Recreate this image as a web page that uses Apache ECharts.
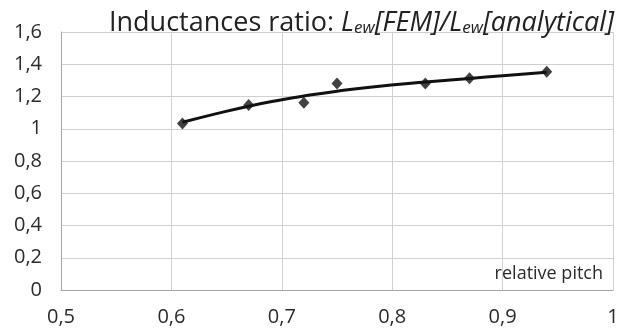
<!DOCTYPE html>
<html>
<head>
<meta charset="utf-8">
<script src="https://cdn.jsdelivr.net/npm/echarts@6/dist/echarts.min.js"></script>
<style>
  html, body { margin: 0; padding: 0; background: #fff; }
  #chart { width: 627px; height: 329px; }
</style>
</head>
<body>
<div id="chart"></div>
<script>
// measured points: relative pitch vs. L_ew[FEM]/L_ew[analytical]
const pitch = [0.61, 0.67, 0.72, 0.75, 0.83, 0.87, 0.94];
const ratio = [1.033, 1.147, 1.161, 1.281, 1.28, 1.313, 1.354];

// trend line
const trendPitch = [0.61, 0.64, 0.67, 0.70, 0.72, 0.75, 0.78, 0.83, 0.87, 0.90, 0.94];
const trendRatio = [1.04, 1.092, 1.14, 1.18, 1.203, 1.233, 1.258, 1.29, 1.312, 1.329, 1.35];

const xTicks = { min: 0.5, max: 1, step: 0.1 };
const yTicks = { min: 0, max: 1.6, step: 0.2 };

const FONT = "'Open Sans', 'Noto Sans', sans-serif";
const TEXT = "#2b2b2b";

function comma(v) {
  return String(+v.toFixed(2)).replace(".", ",");
}

const chart = echarts.init(document.getElementById("chart"), null, { renderer: "canvas" });

const titleBase = { fontFamily: FONT, fontWeight: "normal", color: "#222", verticalAlign: "bottom" };

chart.setOption({
  backgroundColor: "#fff",
  animation: false,
  title: {
    left: 104,
    top: 0,
    text: "{a|Inductances ratio: }{i|L}{s|ew}{i|[FEM]/L}{s|ew}{i|[analytical]}",
    textStyle: {
      fontWeight: "normal",
      rich: {
        a: { ...titleBase, fontSize: 27, lineHeight: 32 },
        i: { ...titleBase, fontSize: 27, fontStyle: "italic", lineHeight: 32 },
        s: { ...titleBase, fontSize: 17, fontStyle: "italic", lineHeight: 27 },
      },
    },
  },
  grid: { left: 61, right: 14, top: 32, bottom: 39 },
  xAxis: {
    type: "value",
    min: xTicks.min,
    max: xTicks.max,
    interval: xTicks.step,
    axisLine: { lineStyle: { color: "#a6a6a6", width: 1 } },
    axisTick: { show: false },
    axisLabel: { color: TEXT, fontFamily: FONT, fontSize: 20, margin: 17, formatter: comma },
    splitLine: { lineStyle: { color: "#d0d0d0", width: 1 } },
  },
  yAxis: {
    type: "value",
    min: yTicks.min,
    max: yTicks.max,
    interval: yTicks.step,
    axisLine: { show: true, lineStyle: { color: "#a6a6a6", width: 1 } },
    axisTick: { show: false },
    axisLabel: { color: TEXT, fontFamily: FONT, fontSize: 20, margin: 19, formatter: comma },
    splitLine: { lineStyle: { color: "#d0d0d0", width: 1 } },
  },
  graphic: [
    {
      type: "text",
      right: 24,
      top: 265,
      style: { text: "relative pitch", fill: TEXT, font: "18px " + FONT },
    },
  ],
  series: [
    {
      name: "trend",
      type: "line",
      data: trendPitch.map((x, i) => [x, trendRatio[i]]),
      smooth: true,
      showSymbol: false,
      lineStyle: { color: "#111", width: 3 },
      z: 2,
    },
    {
      name: "FEM/analytical",
      type: "scatter",
      data: pitch.map((x, i) => [x, ratio[i]]),
      symbol: "diamond",
      symbolSize: [11, 12],
      itemStyle: { color: "#111" },
      z: 3,
    },
  ],
});
</script>
</body>
</html>
